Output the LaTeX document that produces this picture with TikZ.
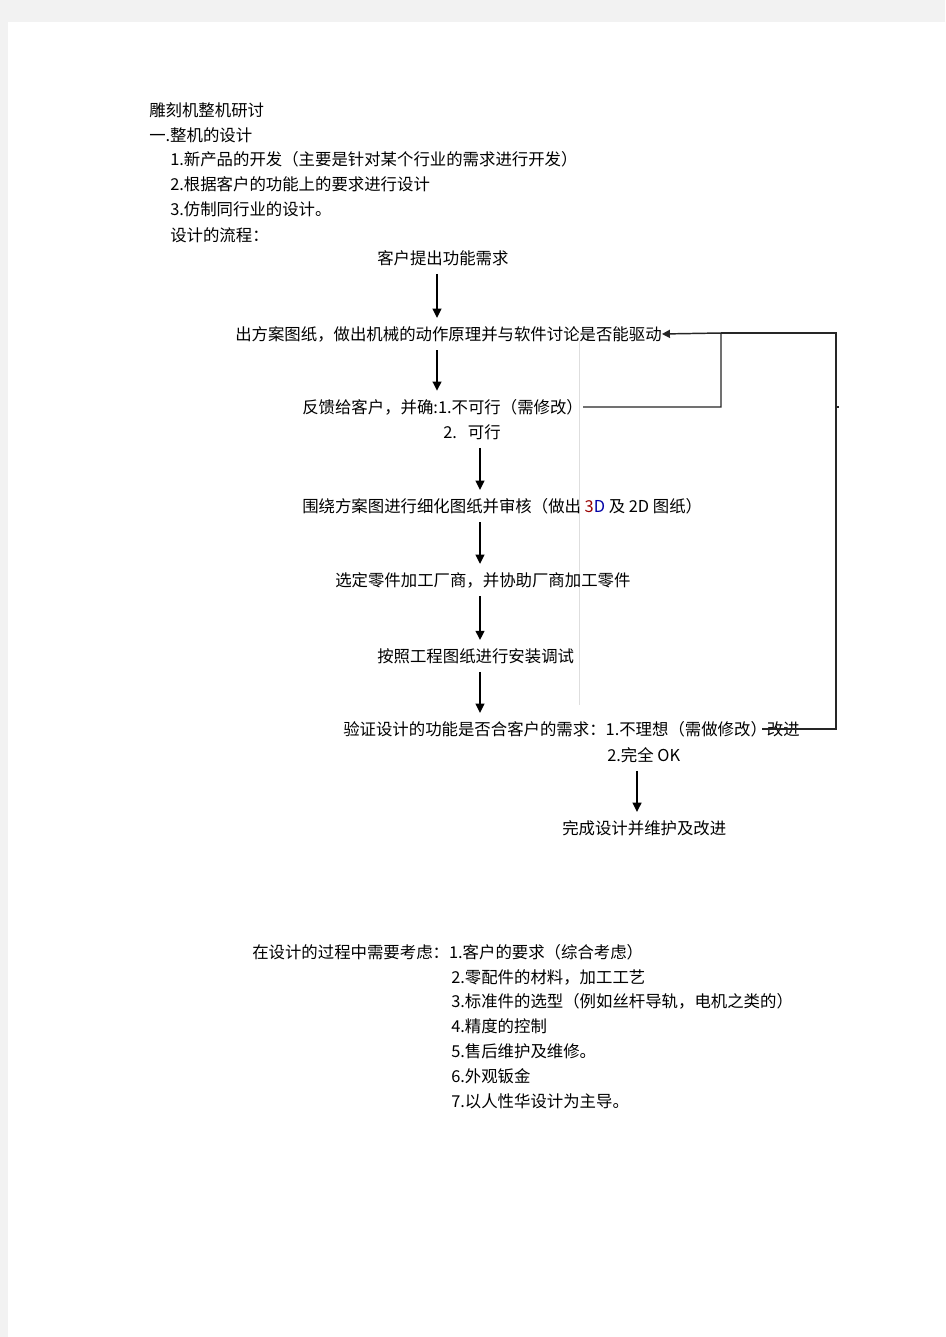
\documentclass[tikz,border=0pt]{standalone}
\usepackage{fontspec}
\setmainfont{Noto Sans CJK SC}
\usetikzlibrary{arrows.meta}

\begin{document}
\begin{tikzpicture}[x=0.75pt,y=-0.75pt,
	txt/.style={anchor=west,inner sep=0pt,font=\fontsize{12.3pt}{14pt}\selectfont},
	flow/.style={line width=1.5pt,-{Triangle[length=7pt,width=6.5pt]},shorten <=6pt,shorten >=6pt},
	fb/.style={line width=1.1pt,draw=black!85}]

	\fill[black!5] (0,0) rectangle (945,1337);
	\fill[white] (8,22) rectangle (945,1337);
	\draw[black!13,line width=0.75pt] (579,341) -- (579,705);

	\draw (149,110) node[txt] (title) {雕刻机整机研讨};
	\draw (149,135) node[txt] (head) {一.整机的设计};
	\draw (170,159) node[txt] (way1) {1.新产品的开发（主要是针对某个行业的需求进行开发）};
	\draw (170,184) node[txt] (way2) {2.根据客户的功能上的要求进行设计};
	\draw (170,209) node[txt] (way3) {3.仿制同行业的设计。};
	\draw (170,235) node[txt] (flowtitle) {设计的流程：};

	\draw (377,258) node[txt] (need) {客户提出功能需求};
	\draw (235,334) node[txt] (plan) {出方案图纸，做出机械的动作原理并与软件讨论是否能驱动};
	\draw (302,407) node[txt] (back) {反馈给客户，并确:1.不可行（需修改）};
	\draw (443,432) node[txt] (ok) {2.\ \ \ 可行};
	\draw (302,506) node[txt] (detail) {围绕方案图进行细化图纸并审核（做出 {\color{red!60!black}3}{\color{blue!65!black}D} 及 2D 图纸）};
	\draw (335,580) node[txt] (parts) {选定零件加工厂商，并协助厂商加工零件};
	\draw (377,656) node[txt] (setup) {按照工程图纸进行安装调试};
	\draw (343,729) node[txt] (check) {验证设计的功能是否合客户的需求：1.不理想（需做修改）改进};
	\draw (607,755) node[txt] (good) {2.完全 OK};
	\draw (562,828) node[txt] (done) {完成设计并维护及改进};

	\draw (252,952) node[txt] (think) {在设计的过程中需要考虑：1.客户的要求（综合考虑）};
	\draw (451,977) node[txt] (item2) {2.零配件的材料，加工工艺};
	\draw (451,1001) node[txt] (item3) {3.标准件的选型（例如丝杆导轨，电机之类的）};
	\draw (451,1026) node[txt] (item4) {4.精度的控制};
	\draw (451,1051) node[txt] (item5) {5.售后维护及维修。};
	\draw (451,1076) node[txt] (item6) {6.外观钣金};
	\draw (451,1101) node[txt] (item7) {7.以人性华设计为主导。};

	\coordinate (sA) at (437,0);
	\coordinate (sB) at (480,0);
	\coordinate (sC) at (637,0);
	\coordinate (rIn) at (721,333);
	\coordinate (rOut) at (836,333);
	\coordinate (redo) at (762,729);

	\draw[flow] (need.south -| sA) -- (plan.north -| sA);
	\draw[flow] (plan.south -| sA) -- (back.north -| sA);
	\draw[flow] (ok.south -| sB) -- (detail.north -| sB);
	\draw[flow] (detail.south -| sB) -- (parts.north -| sB);
	\draw[flow] (parts.south -| sB) -- (setup.north -| sB);
	\draw[flow] (setup.south -| sB) -- (check.north -| sB);
	\draw[flow] (good.south -| sC) -- (done.north -| sC);

	\draw[fb,-{Triangle[length=6pt,width=6pt]}] (back.east) -| (rIn) -- (plan.east);
	\draw[fb] (redo) -| (rOut) -- (rIn);
	\draw[fb] (rOut |- back.east) -- ++(3,0);

\end{tikzpicture}
\end{document}
